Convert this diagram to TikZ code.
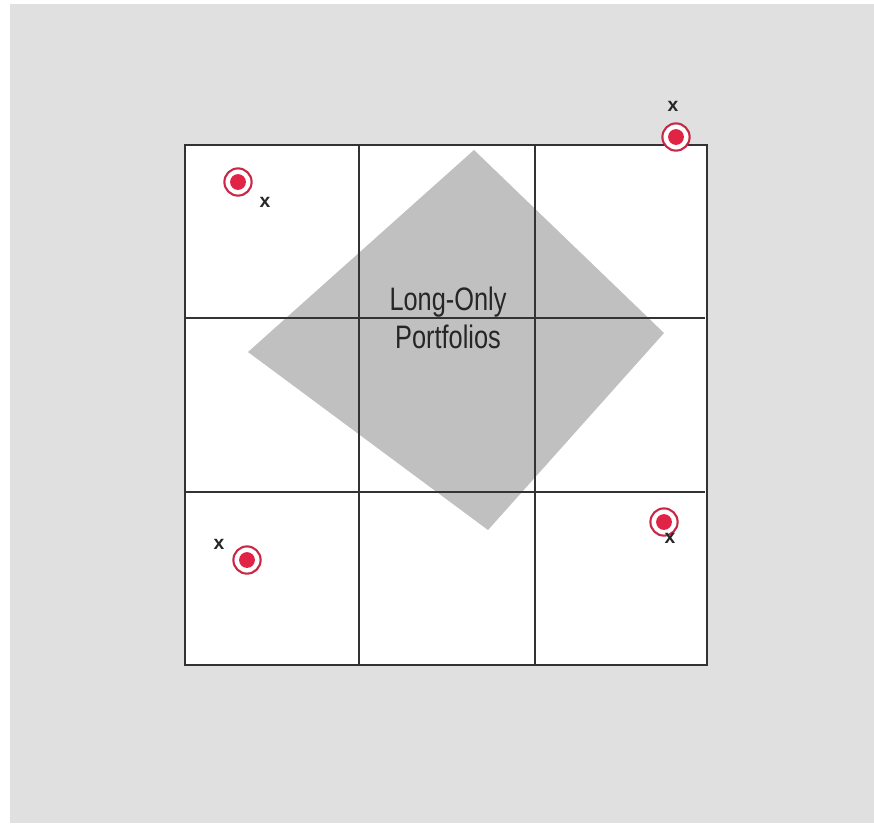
\documentclass[tikz,border=0pt]{standalone}
\usepackage{fontspec}
\setmainfont{Liberation Sans}
\newfontfamily\narrowfont[FakeStretch=0.78]{Liberation Sans}
\usetikzlibrary{positioning}
\definecolor{bggray}{RGB}{224,224,224}
\definecolor{longgray}{RGB}{192,192,192}
\definecolor{gridline}{RGB}{51,51,51}
\definecolor{ringred}{RGB}{200,40,70}
\definecolor{dotred}{RGB}{225,35,70}
\tikzset{
    % grid and region
    gridpath/.style={draw=gridline, line width=1.2pt},
    region/.style={fill=longgray},
    regionlbl/.style={font=\narrowfont\fontsize{18.5}{21.5}\selectfont, text=black!85, align=center, inner sep=0pt},
    % targets and estimates
    ring/.style={circle, draw=ringred, line width=1.2pt, fill=white, minimum size=15.5pt, inner sep=0pt},
    dot/.style={circle, fill=dotred, minimum size=9pt, inner sep=0pt},
    estmark/.style={font=\bfseries\fontsize{11}{11}\selectfont, text=black!85, inner sep=0pt},
}
\begin{document}
\begin{tikzpicture}[x=0.02cm, y=-0.02cm]
\useasboundingbox (0,0) rectangle (874,823);
\fill[bggray] (10,4) rectangle (874,823);
\fill[white] (185,145) rectangle (707,665);

% Long-only region
\fill[region] (474,150) -- (664,333) -- (488,530) -- (248,352) -- cycle;

% Grid
\draw[gridpath] (185,145) rectangle (707,665);
\foreach \gx in {359,535} \draw[gridpath] (\gx,145) -- (\gx,665);
\foreach \gy in {318,492} \draw[gridpath] (185,\gy) -- (705,\gy);

\node[regionlbl] (lbl) at (448,318) {Long-Only\\Portfolios};

% Targets with estimates
\foreach \tx/\ty/\ex/\ey/\n in {676/137/673/106/a, 238/182/265/202/b, 247/560/219/544/c, 664/522/670/538/d}{
    \node[ring] (t\n) at (\tx,\ty) {};
    \node[dot] (d\n) at (t\n.center) {};
    \node[estmark] (e\n) at (\ex,\ey) {x};
}
\end{tikzpicture}
\end{document}
